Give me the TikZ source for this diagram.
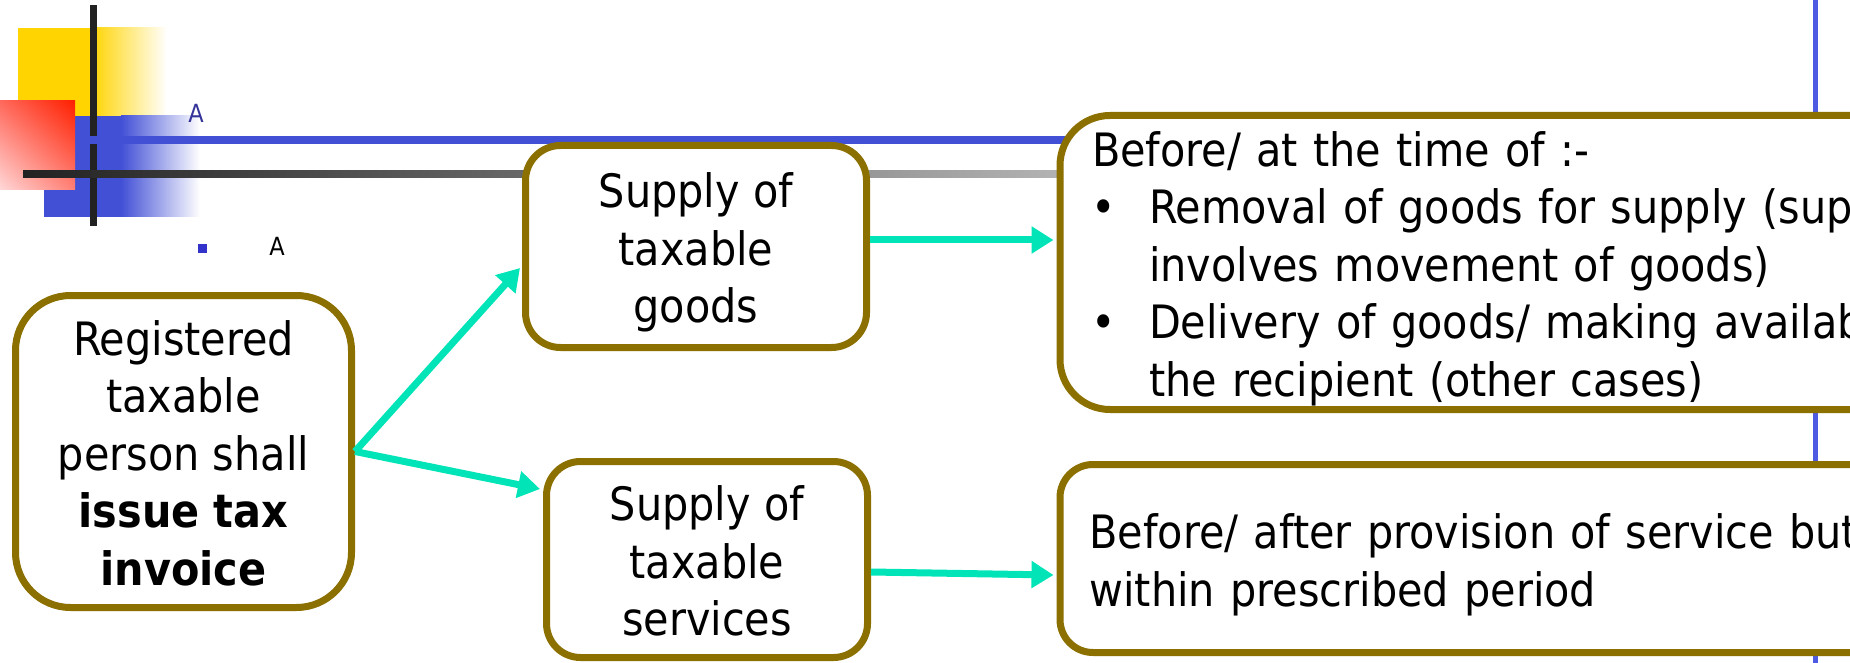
\documentclass[tikz,border=0pt]{standalone}
\usepackage{fontspec}
\setmainfont{DejaVu Sans Condensed}
\usetikzlibrary{arrows.meta,calc,shadings}

\definecolor{boxline}{RGB}{139,112,0}
\definecolor{flow}{RGB}{0,228,184}
\definecolor{barblue}{RGB}{66,80,214}
\definecolor{sideblue}{RGB}{78,90,226}
\definecolor{bardark}{RGB}{34,34,34}
\definecolor{barlight}{RGB}{180,180,180}
\definecolor{gold}{RGB}{255,212,0}
\definecolor{letterblue}{RGB}{51,51,153}
\definecolor{dotblue}{RGB}{51,51,204}
\definecolor{redUR}{RGB}{255,32,0}
\definecolor{redUL}{RGB}{255,105,92}
\definecolor{redLR}{RGB}{255,128,118}
\definecolor{redLL}{RGB}{255,216,216}

% fixed line box so every line sits on the same pitch
\newcommand{\lstr}{\rule[-10pt]{0pt}{57.5pt}}

\begin{document}
\begin{tikzpicture}[x=1pt,y=-1pt,
  card/.style={draw=boxline, line width=7pt, fill=white, inner sep=0pt,
    font=\fontsize{46pt}{57.5pt}\selectfont},
  flowarrow/.style={draw=flow, line width=7pt,
    -{Triangle[length=22pt,width=26pt]}},
  letterlabel/.style={inner sep=0pt, font=\fontsize{25pt}{30pt}\selectfont}]

\useasboundingbox (0,0) rectangle (1850,663);
\clip (0,0) rectangle (1850,663);

% corner ornament: coloured squares and crossing bars
\fill[gold] (18,28) rectangle (97,116);
\shade[left color=gold!92!white, right color=white] (97,28) rectangle (167,116);
\fill[barblue] (44,116) rectangle (121,217);
\shade[left color=barblue, right color=white] (121,116) rectangle (200,217);
\shade[upper right=redUR, upper left=redUL, lower right=redLR, lower left=redLL]
  (0,101) rectangle (75,190);
\fill[bardark] (90,5) rectangle (97,226);
\fill[barblue] (86,136) rectangle (1070,144);
\shade[left color=bardark, right color=barlight] (23,171) rectangle (1070,178);
\fill[sideblue] (1813,0) rectangle (1818,663);

\node[letterlabel, text=letterblue, anchor=base] (letterA) at (196,123) {A};
\fill[dotblue] (198,244) rectangle (207,253);
\node[letterlabel, text=black, anchor=base] (letterB) at (277,255) {A};

% boxes
\node[card, rounded corners=55pt, minimum width=336pt, minimum height=312pt,
      align=center] (reg) at (183.5,451.5)
  {\lstr Registered\\ \lstr taxable\\ \lstr person shall\\
   \lstr\textbf{issue tax}\\ \lstr\textbf{invoice}};

\node[card, rounded corners=35pt, minimum width=341pt, minimum height=202pt,
      align=center] (goods) at (696,246.5)
  {\lstr Supply of\\ \lstr taxable\\ \lstr goods};

\node[card, rounded corners=34pt, minimum width=321pt, minimum height=196pt,
      align=center] (serv) at (707,559.5)
  {\lstr Supply of\\ \lstr taxable\\ \lstr services};

\node[card, rounded corners=50pt, anchor=west, minimum height=294pt,
      text width=950pt, inner xsep=32pt, align=left] (before) at (1056.5,262.5)
  {\lstr Before/ at the time of :-\\
   \lstr\makebox[57pt][l]{\hspace*{-1pt}•}Removal of goods for supply (supply\\
   \lstr\hspace*{57pt}involves movement of goods)\\
   \lstr\makebox[57pt][l]{\hspace*{-1pt}•}Delivery of goods/ making available to\\
   \lstr\hspace*{57pt}the recipient (other cases)};

\node[card, rounded corners=33pt, anchor=west, minimum height=188pt,
      text width=950pt, inner xsep=29.5pt, align=left] (after) at (1056.5,558.5)
  {\lstr Before/ after provision of service but\\
   \lstr within prescribed period};

% connectors
\draw[flowarrow] (reg.east) -- ($(goods.west)+(-2,21.5)$);
\draw[flowarrow] (reg.east) -- ($(serv.west)+(-3,-70.5)$);
\draw[flowarrow] ($(goods.east)+(0,-6.5)$) -- ($(before.west)+(-3,-22.5)$);
\draw[flowarrow] ($(serv.east)+(0,12.5)$) -- ($(after.west)+(-3,16.5)$);
\end{tikzpicture}
\end{document}
